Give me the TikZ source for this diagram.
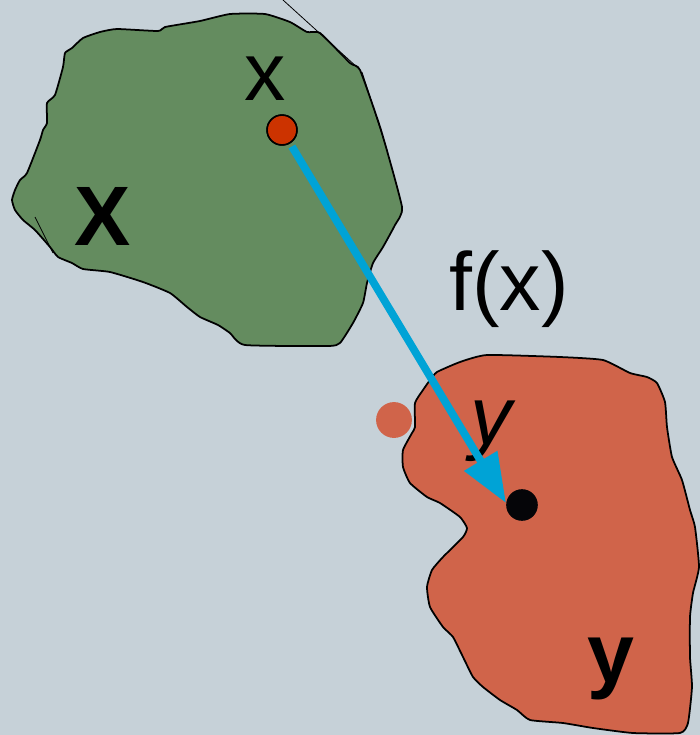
\documentclass[tikz,border=0pt]{standalone}
\usepackage{fontspec}
\setmainfont{Liberation Sans}
\usetikzlibrary{arrows.meta,positioning}

\definecolor{bgblue}{HTML}{C6D1D8}
\definecolor{setgreen}{HTML}{648C5F}
\definecolor{setred}{HTML}{D0644A}
\definecolor{dotred}{HTML}{CC3300}
\definecolor{mapblue}{HTML}{00A3D6}
\definecolor{dotblack}{HTML}{050508}

\begin{document}
\begin{tikzpicture}[
  x=0.02cm, y=-0.02cm,
  blob/.style={draw=black, line width=1pt, line join=round},
  sliver/.style={draw=black, line width=0.45pt},
  lbl/.style={font=\fontsize{47}{47}\selectfont, inner sep=0pt, anchor=base},
  dot/.style={circle, inner sep=0pt, minimum size=#1},
  arrow/.style={-{Triangle[length=28pt, width=21pt]}, line width=4.4pt, mapblue}
]
\useasboundingbox (0,0) rectangle (700,735);
\clip (0,0) rectangle (700,735);
\fill[bgblue] (0,0) rectangle (700,735);

% domain X
\path[blob, fill=setgreen] plot[smooth cycle, tension=0.3] coordinates {
  (158,31) (165,27) (200,21) (230,14) (265,14) (290,22) (307,32) (320,33)
  (350,63) (360,70) (381,130) (402,207) (395,225) (383,247) (373,263)
  (367,283) (363,303) (353,323) (340,343) (328,346) (245,345) (230,333)
  (218,325) (200,317) (187,307) (170,293) (143,282) (110,272) (83,269)
  (72,263) (58,257) (50,247) (35,230) (23,220) (15,210) (12,200) (15,190)
  (20,180) (27,173) (40,140) (43,130) (47,123) (47,103) (55,95) (63,67)
  (65,53) (72,48) (83,38) (100,32) (117,29)};
\draw[sliver] (283,0) -- (358,68);
\draw[sliver] (362,72) -- (387,150);
\draw[sliver] (35,217) -- (53,253);

% codomain Y
\path[blob, fill=setred] plot[smooth cycle, tension=0.3] coordinates {
  (437,372) (460,362) (487,355) (560,357) (603,360) (630,373) (647,377)
  (657,383) (665,402) (667,427) (672,457) (682,480) (690,510) (695,527)
  (699,567) (693,593) (690,617) (690,657) (692,687) (688,723) (680,733)
  (633,733) (593,728) (563,723) (530,720) (517,710) (500,700) (483,687)
  (473,677) (463,657) (453,637) (443,627) (430,607) (427,587) (432,570)
  (443,557) (463,537) (467,528) (460,517) (440,503) (427,497) (410,483)
  (403,467) (403,450) (412,433) (415,427) (415,403) (423,390) (430,380)};

\node[dot=20.4pt, fill=setred] (ghost) at (394,420) {};

% labels
\node[lbl, font=\fontsize{48}{48}\selectfont\bfseries] (setX) at (103,245) {X};
\node[lbl] (elx) at (265,100) {x};
\node[lbl] (map) at (509,310) {f(x)};
\node[lbl, font=\fontsize{47}{47}\selectfont\itshape] (ely) at (491,444) {y};
\node[lbl, font=\fontsize{48}{48}\selectfont\bfseries] (setY) at (611,682) {y};

% points and the map
\node[dot=18pt, fill=dotblack] (ydot) at (522,505) {};
\coordinate (ytip) at (506,503);
\node[dot=17pt, draw=black, line width=0.9pt, fill=dotred] (xdot) at (282,130) {};
\draw[arrow, shorten <=2pt] (xdot) -- (ytip);
\node[dot=17pt, draw=black, line width=0.9pt, fill=dotred] at (xdot) {};
\end{tikzpicture}
\end{document}
